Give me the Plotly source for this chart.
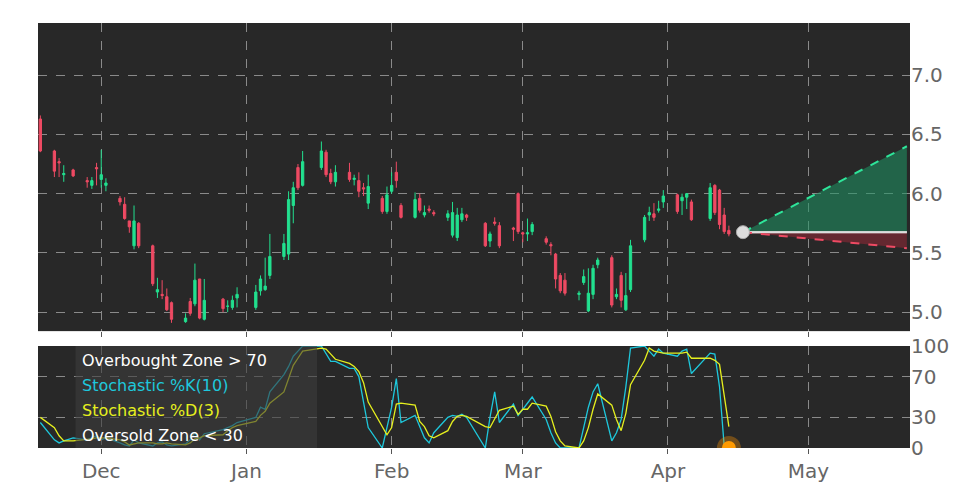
import pandas as pd
import plotly.graph_objects as go

start_date = "2022-11-18"
holidays = ["2022-11-24", "2022-12-26", "2023-01-02", "2023-01-16", "2023-02-20", "2023-04-07"]
n_bars = 100

opens = [6.63,6.36,6.27,6.16,6.20,6.11,6.07,6.22,6.12,6.07,5.96,5.91,5.77,5.56,5.75,5.56,5.17,5.15,5.13,5.08,
         4.92,5.09,5.07,5.28,4.94,5.11,5.05,5.04,5.12,5.04,5.18,5.19,5.31,5.47,5.49,5.90,6.22,6.07,6.22,6.35,
         6.17,6.10,6.18,6.12,6.11,6.05,5.92,5.96,5.85,6.02,6.18,5.90,5.80,5.96,5.82,5.87,5.84,5.80,5.65,5.63,
         5.78,5.82,5.75,5.60,5.76,5.73,5.71,6.00,5.67,5.66,5.68,5.62,5.57,5.49,5.31,5.27,5.15,5.25,5.01,5.15,
         5.40,5.46,5.13,5.31,5.02,5.19,5.61,5.82,5.83,5.86,5.93,5.99,5.94,5.97,5.93,5.79,6.07,6.03,5.82,5.69]
closes = [6.36,6.19,6.26,6.17,6.15,6.10,6.11,6.21,6.16,6.09,5.93,5.79,5.72,5.77,5.56,5.24,5.19,5.14,5.02,4.94,
          4.95,4.99,5.27,4.95,5.10,5.03,5.05,5.10,5.15,5.17,5.28,5.22,5.47,5.58,5.95,6.05,6.05,6.27,6.36,6.16,
          6.10,6.18,6.12,6.13,6.02,6.04,6.06,5.85,5.99,6.07,6.11,5.80,5.95,5.86,5.84,5.86,5.83,5.83,5.84,5.82,
          5.83,5.80,5.56,5.66,5.75,5.56,5.70,5.68,5.66,5.67,5.74,5.59,5.56,5.28,5.18,5.16,5.16,5.30,5.16,5.37,
          5.44,5.06,5.15,5.10,5.14,5.56,5.80,5.84,5.80,5.87,5.98,5.85,5.97,6.00,5.78,6.05,5.84,5.74,5.68,5.66]
highs = [6.66,6.37,6.30,6.24,6.21,6.14,6.14,6.26,6.37,6.13,5.98,5.97,5.77,5.90,5.76,5.57,5.29,5.27,5.20,5.09,
         4.99,5.12,5.41,5.28,5.28,5.12,5.10,5.14,5.21,5.23,5.31,5.46,5.66,5.66,6.02,6.10,6.25,6.36,6.44,6.37,
         6.21,6.24,6.26,6.16,6.18,6.09,6.16,5.98,6.06,6.18,6.27,5.92,6.01,6.00,5.90,5.90,5.86,5.86,5.93,5.88,
         5.88,5.83,5.76,5.68,5.80,5.76,5.72,6.01,5.68,5.79,5.76,5.64,5.59,5.50,5.33,5.33,5.18,5.36,5.37,5.40,
         5.46,5.48,5.20,5.34,5.33,5.61,5.82,5.89,5.92,5.94,6.03,6.00,6.00,6.00,5.95,6.09,6.08,6.04,5.88,5.73]
lows = [6.35,6.14,6.14,6.10,6.14,6.05,6.04,6.07,6.05,6.02,5.90,5.78,5.67,5.53,5.54,5.22,5.12,5.11,5.01,4.91,
        4.91,4.97,5.05,4.94,4.93,5.00,5.00,5.02,5.04,5.02,5.14,5.18,5.28,5.44,5.44,5.75,6.03,6.06,6.20,6.14,
        6.08,6.06,6.10,6.07,5.97,5.98,5.87,5.83,5.83,6.00,6.05,5.79,5.79,5.84,5.80,5.84,5.81,5.77,5.63,5.60,
        5.76,5.77,5.55,5.55,5.73,5.54,5.60,5.66,5.59,5.60,5.65,5.57,5.48,5.20,5.16,5.14,5.10,5.23,5.00,5.11,
        5.37,5.04,5.11,5.04,5.01,5.17,5.59,5.77,5.77,5.84,5.88,5.83,5.82,5.87,5.77,5.77,5.82,5.70,5.66,5.64]

stoch_k = [25,8,5,7,10,8,10,12,8,10,5,3,2,8,5,2,5,6,3,2,4,8,15,8,14,18,20,22,25,30,40,38,55,72,80,90,95,100,100,92,
           85,85,78,78,70,45,20,0,20,40,68,25,32,20,10,5,15,30,32,31,33,30,0,30,55,25,43,32,38,45,50,28,15,5,0,0,0,20,40,55,
           63,7,15,28,60,98,100,95,90,97,93,90,95,97,73,93,92,60,2,0]
stoch_d = [30,20,12,7,7,8,9,10,10,10,8,6,3,4,5,5,4,4,5,4,3,5,9,10,12,13,17,20,22,26,32,36,44,55,69,81,88,95,98,97,
           92,87,83,80,75,64,45,22,13,20,43,44,42,26,21,12,10,17,26,31,32,31,21,20,28,37,41,33,38,38,44,41,31,16,7,2,0,7,20,38,
           53,42,28,17,34,62,86,98,95,94,93,93,93,94,88,88,86,82,51,21]

proj_dates = ["2023-04-17", "2023-05-22"]
proj_mid = [5.675, 5.675]
proj_up = [5.675, 6.40]
proj_low = [5.675, 5.54]

month_ticks = ["2022-12-01", "2023-01-01", "2023-02-01", "2023-03-01", "2023-04-01", "2023-05-01"]
month_labels = ["Dec", "Jan", "Feb", "Mar", "Apr", "May"]
price_ticks = [5.0, 5.5, 6.0, 6.5, 7.0]
stoch_ticks = [0, 30, 70, 100]

dates = pd.bdate_range(start=start_date, periods=n_bars, freq="C", holidays=holidays)

GREEN = "#22e08f"
RED = "#ee4a63"
fig = go.Figure()
fig.add_trace(go.Candlestick(x=dates, open=opens, high=highs, low=lows, close=closes,
    increasing=dict(line=dict(color=GREEN, width=1), fillcolor=GREEN),
    decreasing=dict(line=dict(color=RED, width=1), fillcolor=RED),
    whiskerwidth=0, showlegend=False, xaxis="x", yaxis="y"))
fig.add_trace(go.Scatter(x=proj_dates, y=proj_mid, mode="lines", line=dict(color="#dddddd", width=2), showlegend=False))
fig.add_trace(go.Scatter(x=proj_dates, y=proj_up, mode="lines", line=dict(color="#2ee59a", width=2, dash="dash"),
    fill="tonexty", fillcolor="rgba(30,150,100,0.55)", showlegend=False))
fig.add_trace(go.Scatter(x=proj_dates, y=proj_mid, mode="lines", line=dict(color="#dddddd", width=2), showlegend=False))
fig.add_trace(go.Scatter(x=proj_dates, y=proj_low, mode="lines", line=dict(color="#ee4a63", width=2, dash="dash"),
    fill="tonexty", fillcolor="rgba(150,40,55,0.55)", showlegend=False))
fig.add_trace(go.Scatter(x=proj_dates[:1], y=proj_mid[:1], mode="markers",
    marker=dict(color="#dddddd", size=13, line=dict(color="#aaaaaa", width=1)), showlegend=False))

fig.add_trace(go.Scatter(x=dates, y=stoch_k, mode="lines", line=dict(color="#1ec8dc", width=1.3),
    showlegend=False, xaxis="x2", yaxis="y2"))
fig.add_trace(go.Scatter(x=dates, y=stoch_d, mode="lines", line=dict(color="#e6f01e", width=1.3),
    showlegend=False, xaxis="x2", yaxis="y2"))
fig.add_trace(go.Scatter(x=[dates[-1]], y=[stoch_k[-1]], mode="markers",
    marker=dict(color="rgba(255,150,0,0.35)", size=24), showlegend=False, xaxis="x2", yaxis="y2", cliponaxis=True))
fig.add_trace(go.Scatter(x=[dates[-1]], y=[stoch_k[-1]], mode="markers",
    marker=dict(color="#ff9a00", size=14), showlegend=False, xaxis="x2", yaxis="y2", cliponaxis=True))

xr = ["2022-11-17 12:00", "2023-05-22 16:00"]
grid = dict(showgrid=True, gridcolor="#8a8a8a", griddash="dash", gridwidth=1)
fig.update_layout(
    width=972, height=486, paper_bgcolor="white", plot_bgcolor="#282828",
    margin=dict(l=30, r=70, t=15, b=46, autoexpand=False),
    font=dict(family="DejaVu Sans", color="#666666"),
    xaxis=dict(domain=[0, 1], range=xr, type="date", rangeslider=dict(visible=False), automargin=False,
               tickvals=month_ticks, showticklabels=False, ticks="outside", ticklen=5, tickcolor="#555",
               anchor="y", zeroline=False, **grid),
    yaxis=dict(domain=[0.275, 1], range=[4.84, 7.44], side="right", tickvals=price_ticks, automargin=False,
               ticktext=["5.0", "5.5", "6.0", "6.5", "7.0"], tickfont=dict(size=20), zeroline=False,
               ticks="", **grid),
    xaxis2=dict(domain=[0, 1], range=xr, type="date", tickvals=month_ticks, ticktext=month_labels,
                tickfont=dict(size=20), anchor="y2", ticks="outside", ticklen=5, tickcolor="#555",
                zeroline=False, automargin=False, **grid),
    yaxis2=dict(domain=[0, 0.24], range=[0, 100], side="right", tickvals=stoch_ticks, automargin=False,
                tickfont=dict(size=20), zeroline=False, anchor="x2", **grid),
)
fig.add_shape(type="rect", xref="x2 domain", yref="y2 domain", x0=0.043, x1=0.32, y0=0, y1=1,
              fillcolor="rgba(60,60,60,0.6)", line=dict(width=0), layer="above")
labels = [("Overbought Zone > 70", "white"), ("Stochastic %K(10)", "#1ec8dc"),
          ("Stochastic %D(3)", "#e6f01e"), ("Oversold Zone < 30", "white")]
for i, (t, c) in enumerate(labels):
    fig.add_annotation(xref="x2 domain", yref="y2 domain", x=0.048, y=0.86 - i * 0.245, text=t,
                       showarrow=False, xanchor="left", yanchor="middle", font=dict(size=16, color=c))
fig.write_html("out.html")
